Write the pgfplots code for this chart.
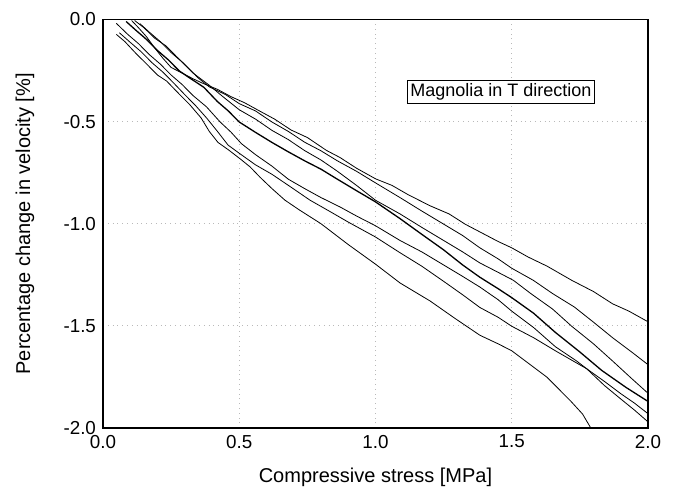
\documentclass[border=0pt]{standalone}
\usepackage{fontspec}
\setmainfont{Liberation Sans}
\usepackage{pgfplots}
\pgfplotsset{compat=1.18}

\begin{document}
\begin{tikzpicture}
\begin{axis}[
    width=272.5pt,
    height=204.25pt,
    scale only axis,
    xmin=0, xmax=2,
    ymin=-2, ymax=0,
    xtick={0,0.5,1,1.5,2},
    xticklabels={0.0,0.5,1.0,1.5,2.0},
    ytick={-2,-1.5,-1,-0.5,0},
    yticklabels={-2.0,-1.5,-1.0,-0.5,0.0},
    major tick length=0pt,
    tick label style={font=\fontsize{9.4}{10}\selectfont},
    label style={font=\fontsize{10}{11}\selectfont},
    xlabel={Compressive stress [MPa]},
    ylabel={Percentage change in velocity [\%]},
    xlabel style={at={(axis description cs:0.5,-0.12)}, anchor=center},
    ylabel style={at={(axis description cs:-0.143,0.5)}, anchor=center},
    grid=major,
    grid style={gray!55, dotted, line width=0.4pt},
    axis line style={black, line width=0.75pt},
    cycle list={{black, solid, mark=none, line width=0.65pt}},
    clip=false,
]
% A
\addplot coordinates {(0.105,-0.005)(0.13,-0.04)(0.16,-0.085)(0.19,-0.14)(0.22,-0.19)(0.25,-0.235)(0.29,-0.262)(0.33,-0.29)(0.367,-0.313)(0.42,-0.342)(0.47,-0.378)(0.52,-0.408)(0.58,-0.452)(0.63,-0.488)(0.69,-0.541)(0.75,-0.578)(0.82,-0.641)(0.87,-0.676)(0.93,-0.728)(1.0,-0.78)(1.06,-0.812)(1.12,-0.858)(1.2,-0.912)(1.27,-0.952)(1.33,-1.003)(1.383,-1.04)(1.45,-1.087)(1.5,-1.118)(1.56,-1.163)(1.63,-1.208)(1.72,-1.277)(1.8,-1.332)(1.87,-1.392)(1.93,-1.428)(2.0,-1.48)};
% B
\addplot coordinates {(0.116,-0.005)(0.15,-0.04)(0.19,-0.092)(0.23,-0.128)(0.27,-0.182)(0.31,-0.233)(0.35,-0.287)(0.39,-0.33)(0.45,-0.368)(0.5,-0.412)(0.56,-0.448)(0.62,-0.502)(0.68,-0.548)(0.74,-0.601)(0.8,-0.643)(0.86,-0.692)(0.93,-0.743)(1.0,-0.80)(1.09,-0.872)(1.17,-0.938)(1.25,-1.002)(1.32,-1.058)(1.383,-1.118)(1.45,-1.172)(1.5,-1.218)(1.579,-1.277)(1.65,-1.342)(1.73,-1.408)(1.8,-1.482)(1.87,-1.558)(1.94,-1.628)(2.0,-1.69)};
% C
\addplot coordinates {(0.135,-0.02)(0.17,-0.062)(0.21,-0.108)(0.25,-0.162)(0.29,-0.208)(0.33,-0.262)(0.39,-0.322)(0.44,-0.378)(0.5,-0.442)(0.56,-0.488)(0.62,-0.543)(0.68,-0.588)(0.74,-0.642)(0.8,-0.688)(0.86,-0.743)(0.93,-0.812)(1.0,-0.885)(1.09,-0.952)(1.17,-1.018)(1.25,-1.082)(1.32,-1.138)(1.383,-1.192)(1.45,-1.238)(1.506,-1.277)(1.57,-1.342)(1.65,-1.418)(1.72,-1.502)(1.8,-1.588)(1.87,-1.672)(1.94,-1.758)(2.0,-1.83)};
% D
\addplot coordinates {(0.085,-0.01)(0.12,-0.052)(0.16,-0.098)(0.2,-0.152)(0.24,-0.198)(0.28,-0.252)(0.32,-0.288)(0.37,-0.332)(0.42,-0.402)(0.46,-0.448)(0.5,-0.502)(0.56,-0.553)(0.62,-0.602)(0.68,-0.648)(0.74,-0.692)(0.8,-0.733)(0.86,-0.782)(0.93,-0.838)(1.0,-0.893)(1.09,-0.975)(1.17,-1.052)(1.25,-1.128)(1.32,-1.202)(1.383,-1.262)(1.45,-1.318)(1.5,-1.362)(1.58,-1.438)(1.66,-1.532)(1.75,-1.628)(1.83,-1.718)(1.92,-1.802)(2.0,-1.87)};
% E
\addplot coordinates {(0.049,-0.019)(0.09,-0.072)(0.13,-0.118)(0.17,-0.172)(0.21,-0.218)(0.25,-0.272)(0.29,-0.318)(0.33,-0.372)(0.38,-0.428)(0.43,-0.502)(0.47,-0.552)(0.508,-0.608)(0.56,-0.662)(0.62,-0.718)(0.68,-0.782)(0.74,-0.828)(0.8,-0.872)(0.87,-0.918)(0.93,-0.962)(1.0,-1.01)(1.09,-1.082)(1.17,-1.138)(1.25,-1.202)(1.32,-1.258)(1.383,-1.31)(1.45,-1.372)(1.5,-1.428)(1.58,-1.508)(1.66,-1.602)(1.738,-1.672)(1.775,-1.71)(1.84,-1.792)(1.9,-1.858)(1.95,-1.912)(2.0,-1.97)};
% F
\addplot coordinates {(0.06,-0.065)(0.1,-0.112)(0.14,-0.158)(0.18,-0.212)(0.22,-0.258)(0.26,-0.312)(0.3,-0.368)(0.34,-0.422)(0.38,-0.482)(0.42,-0.548)(0.459,-0.615)(0.5,-0.655)(0.56,-0.712)(0.62,-0.758)(0.68,-0.812)(0.76,-0.885)(0.83,-0.938)(0.9,-0.992)(1.0,-1.065)(1.09,-1.142)(1.17,-1.208)(1.25,-1.282)(1.32,-1.348)(1.383,-1.41)(1.45,-1.458)(1.5,-1.502)(1.58,-1.558)(1.66,-1.622)(1.72,-1.668)(1.775,-1.71)(1.84,-1.772)(1.9,-1.832)(1.95,-1.878)(2.0,-1.93)};
% G
\addplot coordinates {(0.049,-0.073)(0.08,-0.108)(0.12,-0.165)(0.16,-0.218)(0.2,-0.272)(0.234,-0.302)(0.27,-0.352)(0.319,-0.418)(0.36,-0.482)(0.39,-0.548)(0.422,-0.602)(0.46,-0.638)(0.503,-0.682)(0.54,-0.722)(0.576,-0.772)(0.62,-0.828)(0.668,-0.885)(0.72,-0.932)(0.8,-1.0)(0.9,-1.102)(1.0,-1.198)(1.09,-1.29)(1.2,-1.378)(1.29,-1.462)(1.383,-1.546)(1.45,-1.588)(1.5,-1.622)(1.56,-1.682)(1.628,-1.75)(1.714,-1.865)(1.76,-1.932)(1.79,-2.0)};

\node[draw=black, fill=white, line width=0.5pt, inner sep=1.5pt,
      font=\fontsize{9}{10}\selectfont] at (axis cs:1.46,-0.355) {Magnolia in T direction};

\path (rel axis cs:-0.189,-0.1493) rectangle (rel axis cs:1.0514,1.0477);
\end{axis}
\end{tikzpicture}
\end{document}
